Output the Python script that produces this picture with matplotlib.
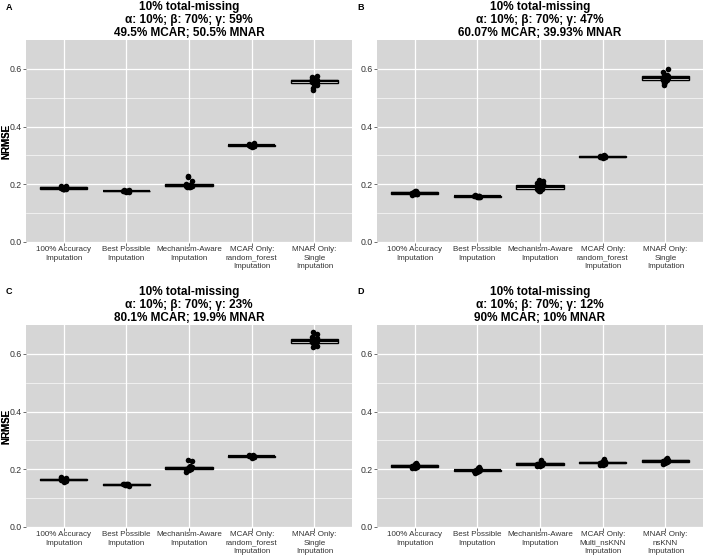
import matplotlib
matplotlib.use('Agg')
import matplotlib.pyplot as plt
import numpy as np

plt.rcParams['font.family'] = ['Liberation Sans', 'DejaVu Sans']

# category labels
labels_abc = ['100% Accuracy\nImputation', 'Best Possible\nImputation', 'Mechanism-Aware\nImputation',
              'MCAR Only:\nrandom_forest\nImputation', 'MNAR Only:\nSingle\nImputation']
labels_d = ['100% Accuracy\nImputation', 'Best Possible\nImputation', 'Mechanism-Aware\nImputation',
            'MCAR Only:\nMulti_nsKNN\nImputation', 'MNAR Only:\nnsKNN\nImputation']

titles = ['10% total-missing\nα: 10%; β: 70%; γ: 59%\n49.5% MCAR; 50.5% MNAR',
          '10% total-missing\nα: 10%; β: 70%; γ: 47%\n60.07% MCAR; 39.93% MNAR',
          '10% total-missing\nα: 10%; β: 70%; γ: 23%\n80.1% MCAR; 19.9% MNAR',
          '10% total-missing\nα: 10%; β: 70%; γ: 12%\n90% MCAR; 10% MNAR']
panel_tags = ['A', 'B', 'C', 'D']

# NRMSE values
acc_A = [0.183, 0.185, 0.186, 0.187, 0.184, 0.188, 0.190, 0.186, 0.185, 0.189, 0.192, 0.195, 0.182, 0.187, 0.186]
best_A = [0.174, 0.176, 0.177, 0.175, 0.178, 0.176, 0.173, 0.179, 0.177, 0.175, 0.176, 0.180]
mech_A = [0.190, 0.192, 0.195, 0.193, 0.197, 0.191, 0.194, 0.196, 0.198, 0.189, 0.200, 0.193, 0.225, 0.230, 0.212]
mcar_A = [0.330, 0.333, 0.335, 0.332, 0.336, 0.334, 0.331, 0.337, 0.335, 0.333, 0.340, 0.344]
mnar_A = [0.548, 0.552, 0.556, 0.558, 0.560, 0.554, 0.562, 0.565, 0.550, 0.557, 0.570, 0.575,
          0.535, 0.528, 0.545, 0.559, 0.563, 0.553]

acc_B = [0.165, 0.168, 0.170, 0.167, 0.172, 0.169, 0.166, 0.171, 0.175, 0.178, 0.163, 0.170]
best_B = [0.156, 0.158, 0.159, 0.157, 0.160, 0.158, 0.155, 0.161, 0.157, 0.159]
mech_B = [0.178, 0.182, 0.185, 0.188, 0.190, 0.194, 0.197, 0.180, 0.186, 0.192, 0.205, 0.210, 0.214, 0.175, 0.200]
mcar_B = [0.292, 0.294, 0.295, 0.296, 0.297, 0.295, 0.293, 0.298, 0.296, 0.300]
mnar_B = [0.556, 0.562, 0.566, 0.570, 0.574, 0.578, 0.568, 0.560, 0.572, 0.580, 0.590, 0.600,
          0.545, 0.552, 0.576, 0.565]

acc_C = [0.158, 0.160, 0.163, 0.165, 0.167, 0.162, 0.170, 0.172, 0.155, 0.164, 0.168, 0.161]
best_C = [0.144, 0.146, 0.147, 0.145, 0.148, 0.146, 0.143, 0.149, 0.147, 0.150]
mech_C = [0.196, 0.199, 0.202, 0.204, 0.206, 0.201, 0.208, 0.198, 0.203, 0.210, 0.190, 0.228, 0.232]
mcar_C = [0.240, 0.243, 0.245, 0.246, 0.244, 0.247, 0.242, 0.248, 0.245, 0.250]
mnar_C = [0.630, 0.637, 0.641, 0.645, 0.648, 0.652, 0.656, 0.643, 0.639, 0.650, 0.660, 0.668,
          0.675, 0.622, 0.626, 0.646, 0.653]

acc_D = [0.205, 0.208, 0.210, 0.212, 0.209, 0.211, 0.214, 0.207, 0.218, 0.222, 0.203, 0.213]
best_D = [0.190, 0.193, 0.195, 0.197, 0.194, 0.196, 0.199, 0.192, 0.203, 0.208, 0.188, 0.196]
mech_D = [0.212, 0.215, 0.218, 0.220, 0.217, 0.219, 0.222, 0.216, 0.228, 0.232, 0.210, 0.221]
mcar_D = [0.216, 0.219, 0.222, 0.224, 0.221, 0.223, 0.226, 0.220, 0.230, 0.234, 0.214, 0.225]
mnar_D = [0.221, 0.224, 0.227, 0.229, 0.226, 0.228, 0.231, 0.225, 0.236, 0.240, 0.218, 0.230]

panels = [
    ([acc_A, best_A, mech_A, mcar_A, mnar_A], labels_abc),
    ([acc_B, best_B, mech_B, mcar_B, mnar_B], labels_abc),
    ([acc_C, best_C, mech_C, mcar_C, mnar_C], labels_abc),
    ([acc_D, best_D, mech_D, mcar_D, mnar_D], labels_d),
]

W, H = 708, 556
fig = plt.figure(figsize=(W / 100, H / 100), dpi=100)

# panel boxes in pixels: left, top, right, bottom
boxes = [(26, 40, 352, 243), (377, 40, 703, 243), (26, 325, 352, 528), (377, 325, 703, 528)]
tag_pos = [(6, 8), (357, 8), (6, 292), (357, 292)]

for k, ((groups, labels), (l, t, r, b)) in enumerate(zip(panels, boxes)):
    ax = fig.add_axes([l / W, 1 - b / H, (r - l) / W, (b - t) / H])
    ax.set_facecolor('#D6D6D6')
    for s in ax.spines.values():
        s.set_visible(False)
    pos = np.arange(1, len(groups) + 1)

    ax.boxplot(groups, positions=pos, widths=0.75, patch_artist=True, showcaps=False,
               showfliers=False,
               boxprops=dict(facecolor='white', edgecolor='black', linewidth=1.0),
               medianprops=dict(color='black', linewidth=1.6),
               whiskerprops=dict(color='black', linewidth=0.9), zorder=3)
    for i, g in enumerate(groups):
        n = len(g)
        off = 0.045 * np.sin(np.arange(n) * 2.39)
        ax.scatter(pos[i] + off, g, s=16, color='black', zorder=4, linewidths=0)

    ax.set_xlim(0.4, 5.6)
    ax.set_ylim(-0.004, 0.70)
    ax.set_yticks([0.0, 0.2, 0.4, 0.6])
    ax.set_yticklabels(['0.0', '0.2', '0.4', '0.6'])
    ax.set_yticks([0.1, 0.3, 0.5], minor=True)
    ax.set_xticks(pos)
    ax.set_xticklabels(labels, fontsize=5.8, color='#333333', linespacing=1.25)
    ax.tick_params(axis='y', labelsize=6.3, labelcolor='#333333', length=2, width=0.5,
                   color='#333333', pad=1)
    ax.tick_params(axis='x', length=2, width=0.5, color='#333333', pad=0.5)
    ax.tick_params(axis='y', which='minor', length=0)
    ax.grid(True, which='major', color='white', linewidth=0.9, zorder=0)
    ax.grid(True, which='minor', axis='y', color='white', linewidth=0.45, zorder=0)
    ax.set_axisbelow(True)

    ax.set_ylabel('NRMSE', fontsize=7, fontweight='bold')
    ax.yaxis.set_label_coords(-(l - 11) / (r - l), 0.5)
    ax.set_title(titles[k], fontsize=8.5, fontweight='bold', linespacing=1.12, pad=3)
    fig.text(tag_pos[k][0] / W, 1 - tag_pos[k][1] / H, panel_tags[k], fontsize=6.5,
             fontweight='bold', va='center', ha='left')

fig.savefig('out.png', dpi=100)
